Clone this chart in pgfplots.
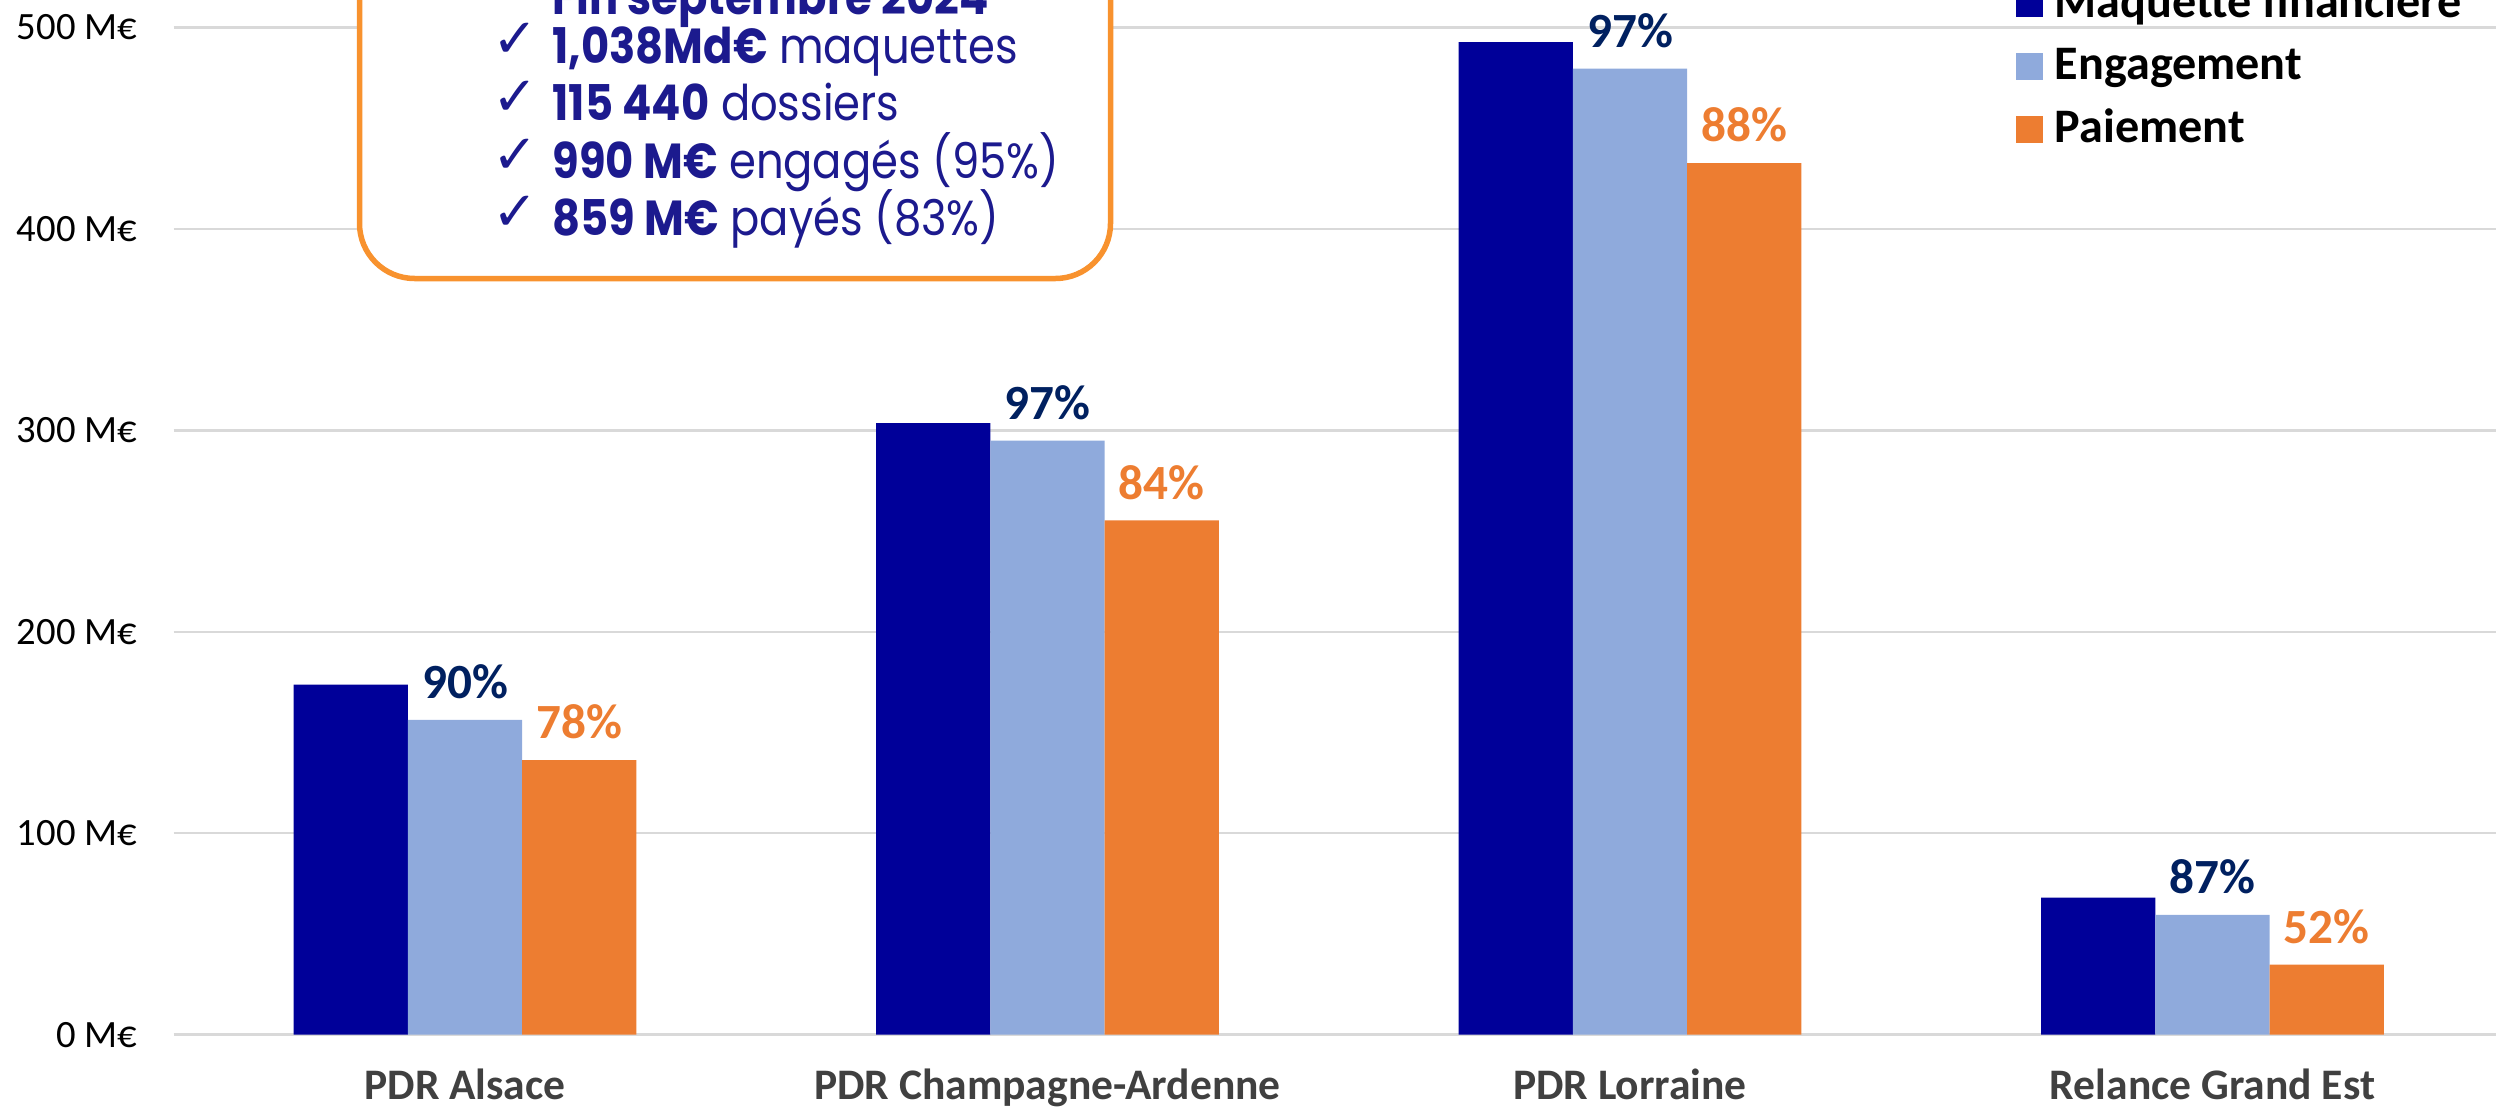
\documentclass[border=0pt]{standalone}
\usepackage{pgfplots}
\pgfplotsset{compat=1.18}
\usepackage{pgfplotstable}
\usepackage{fontspec}
\setmainfont{Carlito}
\newfontfamily\pop[FakeStretch=0.88]{Poppins}
\newfontfamily\dejavu{DejaVu Sans}
\definecolor{cMaq}{HTML}{000099}
\definecolor{cEng}{HTML}{8FAADC}
\definecolor{cPay}{HTML}{ED7D31}
\definecolor{cNavy}{HTML}{002060}
\definecolor{cBox}{HTML}{F8922E}
\definecolor{cTxt}{HTML}{1C1A8E}
\definecolor{cGrid}{HTML}{D9D9D9}
\definecolor{cCat}{HTML}{404040}

\pgfplotstableread{
x y
0 173.8
1 303.5
2 492.6
3 68.1
}\maq
\pgfplotstableread{
x y p
0 156.2 90
1 294.8 97
2 479.5 97
3 59.5 87
}\eng
\pgfplotstableread{
x y p
0 136.3 78
1 255.3 84
2 432.6 88
3 34.8 52
}\pay

\begin{document}
\begin{tikzpicture}
\begin{axis}[
  at={(17.375mm,7.53mm)}, anchor=south west,
  scale only axis, width=233mm, height=100.74mm,
  xmin=-0.5, xmax=3.5, ymin=0, ymax=500,
  ybar=0pt, bar width=11.43mm,
  axis line style={draw=none},
  major tick length=0pt,
  ytick={0,100,...,500},
  yticklabels={0 M€,100 M€,200 M€,300 M€,400 M€,500 M€},
  ymajorgrids, grid style={cGrid, line width=0.25mm},
  xtick={0,1,2,3},
  xticklabels={PDR Alsace,PDR Champagne-Ardenne,PDR Lorraine,Relance Grand Est},
  yticklabel style={font=\fontsize{11}{13}\selectfont, anchor=east, inner sep=0pt, xshift=-3.6mm},
  xticklabel style={font=\bfseries\fontsize{12.4}{14}\selectfont, text=cCat, anchor=base, inner sep=0pt, yshift=-6.5mm},
  legend image code/.code={\fill[#1] (0mm,0mm) rectangle (2.7mm,2.7mm);},
  legend style={at={(0.7905,1.0398)}, anchor=north west, draw=none, fill=none,
    inner sep=0pt, outer sep=0pt, row sep=2.27mm,
    font=\bfseries\fontsize{13.7}{15}\selectfont,
    nodes={inner sep=0pt, text height=3mm, text depth=1mm, anchor=base west},
    /tikz/every odd column/.append style={column sep=1.23mm}},
  legend cell align=left,
]
\addplot[fill=cMaq, draw=none] table[x=x,y=y]{\maq};
\addplot[fill=cEng, draw=none, point meta=explicit symbolic,
  nodes near coords={\pgfplotspointmeta\%},
  nodes near coords style={anchor=south, inner sep=0pt, yshift=2mm, text=cNavy,
    font=\bfseries\fontsize{14}{16}\selectfont}] table[x=x,y=y,meta=p]{\eng};
\addplot[fill=cPay, draw=none, point meta=explicit symbolic,
  nodes near coords={\pgfplotspointmeta\%},
  nodes near coords style={anchor=south, inner sep=0pt, yshift=2mm, text=cPay,
    font=\bfseries\fontsize{14}{16}\selectfont}] table[x=x,y=y,meta=p]{\pay};
\legend{Maquette financière, Engagement, Paiement}
\end{axis}

\draw[cBox, line width=0.55mm, fill=white, rounded corners=5.5mm] (35.95mm,83.15mm) rectangle (111.05mm,125mm);
\begin{scope}[every node/.style={anchor=base west, inner sep=0pt, text=cTxt}]
\node[font=\pop\bfseries\fontsize{14}{17}\selectfont] at (55.2mm,109.6mm) {Fin septembre 2024};
\node[font=\pop\fontsize{14}{17}\selectfont] at (55.2mm,104.7mm) {\textbf{1,038Md€} maquettes};
\node[font=\pop\fontsize{14}{17}\selectfont] at (55.2mm,99.0mm) {\textbf{115 440} dossiers};
\node[font=\pop\fontsize{14}{17}\selectfont] at (55.2mm,93.2mm) {\textbf{990 M€} engagés (95\%)};
\node[font=\pop\fontsize{14}{17}\selectfont] at (55.2mm,87.5mm) {\textbf{859 M€} payés (83\%)};
\node[font=\dejavu\fontsize{15.5}{17}\selectfont] at (49.2mm,105.2mm) {✓};
\node[font=\dejavu\fontsize{15.5}{17}\selectfont] at (49.2mm,99.5mm) {✓};
\node[font=\dejavu\fontsize{15.5}{17}\selectfont] at (49.2mm,93.7mm) {✓};
\node[font=\dejavu\fontsize{15.5}{17}\selectfont] at (49.2mm,88.0mm) {✓};
\end{scope}
\pgfresetboundingbox
\path[use as bounding box] (0,0) rectangle (249.6mm,111mm);
\end{tikzpicture}
\end{document}
